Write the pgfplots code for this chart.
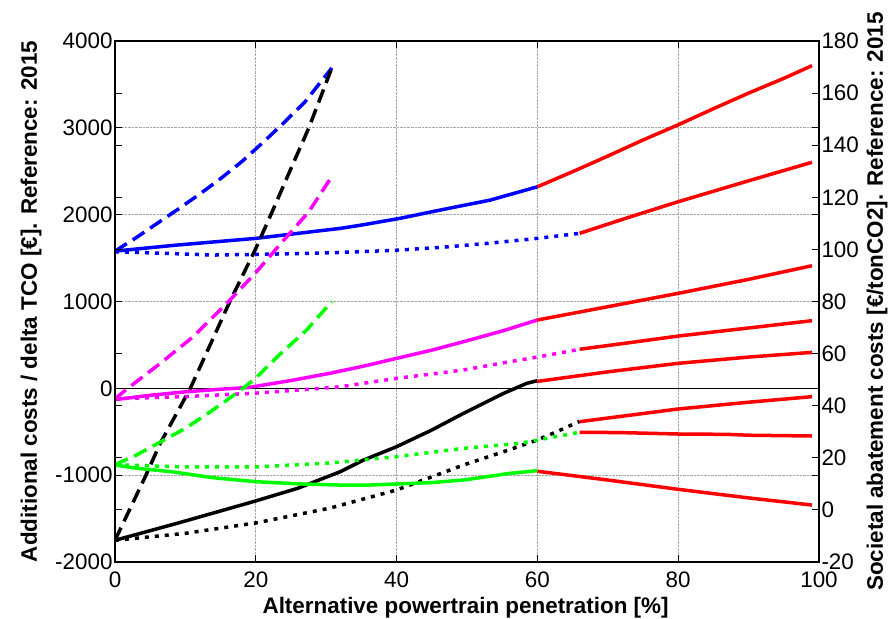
\documentclass[border=0pt]{standalone}
\usepackage{pgfplots}
\pgfplotsset{compat=1.18}
\usepackage{fontspec}
\setmainfont{Liberation Sans}

\definecolor{mblue}{RGB}{0,0,255}
\definecolor{mmag}{RGB}{255,0,255}
\definecolor{mgreen}{RGB}{0,255,0}
\definecolor{mred}{RGB}{255,0,0}

\tikzset{
  dsh/.style={line width=3.5bp, dash pattern=on 14bp off 7bp},
  dtt/.style={line width=3.5bp, dash pattern=on 4bp off 6bp},
  sld/.style={line width=3.5bp},
}

\begin{document}
\begin{tikzpicture}
\useasboundingbox (-115bp,-57bp) rectangle (776bp,562bp);
\begin{axis}[
    width=704bp, height=521bp, scale only axis,
    xmin=0, xmax=100, ymin=-2000, ymax=4000,
    xtick={0,20,40,60,80,100},
    xticklabels={0,20,40,60,80,100},
    ytick={-2000,-1000,0,1000,2000,3000,4000},
    yticklabels={-2000,-1000,0,1000,2000,3000,4000},
    xtick pos=both, ytick pos=both,
    tick align=inside, major tick length=7bp,
    tick style={black, line width=0.8bp},
    axis line style={black, line width=1.3bp},
    grid=major,
    grid style={densely dotted, gray!70, line width=0.7bp},
    tick label style={font=\fontsize{22.5}{22.5}\selectfont},
    xticklabel style={anchor=base, yshift=-25bp},
    yticklabel style={xshift=1bp},
    xlabel={\bfseries Alternative powertrain penetration [\%]},
    xlabel style={font=\fontsize{22.5}{22.5}\selectfont, at={(axis description cs:0.498,0)}, anchor=base, yshift=-51bp},
    ylabel={\bfseries Additional costs / delta TCO [€]. Reference: 2015},
    ylabel style={font=\fontsize{22.5}{22.5}\selectfont, at={(axis description cs:0,0.5)}, anchor=center, yshift=84bp},
]
% zero line
\addplot[black, line width=0.9bp] coordinates {(0,0) (100,0)};

% blue
\addplot[mblue, dsh] coordinates {(0,1580) (3,1735) (6,1900) (9,2065) (12,2235) (15,2415) (18,2610) (21,2830) (24,3060) (27,3300) (30.8,3690)};
\addplot[mblue, sld] coordinates {(0,1580) (8.8,1650) (20,1727) (26,1785) (32,1842) (35,1880) (40.5,1958) (46,2050) (53.3,2168) (60,2321)};
\addplot[mblue, dtt] coordinates {(0,1573) (7,1555) (14,1535) (22,1545) (31,1562) (40,1590) (47,1628) (53,1670) (60,1727) (66,1785)};

% black
\addplot[black, dsh] coordinates {(0,-1750) (4.3,-1018) (6.4,-637) (10.7,0) (16.3,997) (19.9,1593) (22,1973) (24.9,2514) (27.5,2993) (30.8,3690)};
\addplot[black, sld] coordinates {(0,-1750) (8.8,-1555) (19.6,-1306) (26,-1150) (32,-960) (35.3,-826) (40,-672) (45,-480) (49.5,-288) (55.2,-58) (58.5,58) (60,88)};
\addplot[black, dtt] coordinates {(0,-1750) (10,-1670) (20,-1550) (30.5,-1380) (40,-1171) (49.5,-883) (55.2,-730) (60,-595) (63,-490) (66,-380)};

% magenta
\addplot[mmag, dsh] coordinates {(0,-120) (2.1,18) (6.4,285) (11.1,594) (16.1,997) (19.9,1324) (24.4,1746) (27.5,2030) (30.8,2440)};
\addplot[mmag, sld] coordinates {(0,-130) (5,-80) (10,-40) (15,-10) (19,10) (25,90) (30.5,173) (35,250) (40,345) (45,440) (49.5,537) (55,660) (60,787)};
\addplot[mmag, dtt] coordinates {(0,-120) (10,-95) (20,-55) (26,-20) (32,18) (40,115) (49.5,211) (55.6,300) (60,360) (66,450)};

% green
\addplot[mgreen, dsh] coordinates {(0,-880) (3,-770) (6.4,-620) (10,-460) (13,-300) (16,-130) (18.5,20) (20,120) (23.4,390) (27.2,670) (30.8,1000)};
\addplot[mgreen, sld] coordinates {(0,-883) (3,-920) (8,-960) (14,-1030) (20,-1075) (26,-1100) (32,-1114) (36,-1114) (40,-1102) (45,-1085) (49.5,-1056) (56,-980) (60,-948)};
\addplot[mgreen, dtt] coordinates {(0,-880) (10,-905) (20,-905) (30.5,-860) (40,-787) (49.5,-691) (57.5,-633) (60,-595) (66,-506)};

% red continuations
\addplot[mred, sld] coordinates {(60,2321) (65,2495) (70,2675) (75,2860) (80,3035) (85,3220) (90,3400) (95,3570) (99,3716)};
\addplot[mred, sld] coordinates {(66,1785) (73,1970) (80,2149) (90,2390) (99,2603)};
\addplot[mred, sld] coordinates {(60,787) (70,940) (80,1094) (90,1255) (99,1412)};
\addplot[mred, sld] coordinates {(66,450) (73,525) (80,602) (90,695) (99,779)};
\addplot[mred, sld] coordinates {(60,80) (70,190) (80,288) (90,360) (99,414)};
\addplot[mred, sld] coordinates {(66,-384) (80,-238) (90,-160) (99,-96)};
\addplot[mred, sld] coordinates {(66,-506) (72,-510) (80,-526) (87,-530) (90,-540) (99,-549)};
\addplot[mred, sld] coordinates {(60,-955) (70,-1056) (80,-1163) (90,-1262) (99,-1344)};
\end{axis}

\begin{axis}[
    width=704bp, height=521bp, scale only axis,
    xmin=0, xmax=100, ymin=-20, ymax=180,
    hide x axis,
    ytick={-20,0,20,40,60,80,100,120,140,160,180},
    yticklabels={-20,0,20,40,60,80,100,120,140,160,180},
    yticklabel pos=right, ytick pos=both,
    tick align=inside, major tick length=7bp,
    tick style={black, line width=0.8bp},
    axis line style={black, line width=1.3bp},
    tick label style={font=\fontsize{22.5}{22.5}\selectfont},
    yticklabel style={xshift=-1bp},
    ylabel={\bfseries Societal abatement costs [€/tonCO2]. Reference: 2015},
    ylabel style={font=\fontsize{22.5}{22.5}\selectfont, at={(axis description cs:1,0.5)}, anchor=center, yshift=-58bp},
]
\end{axis}
\end{tikzpicture}
\end{document}
